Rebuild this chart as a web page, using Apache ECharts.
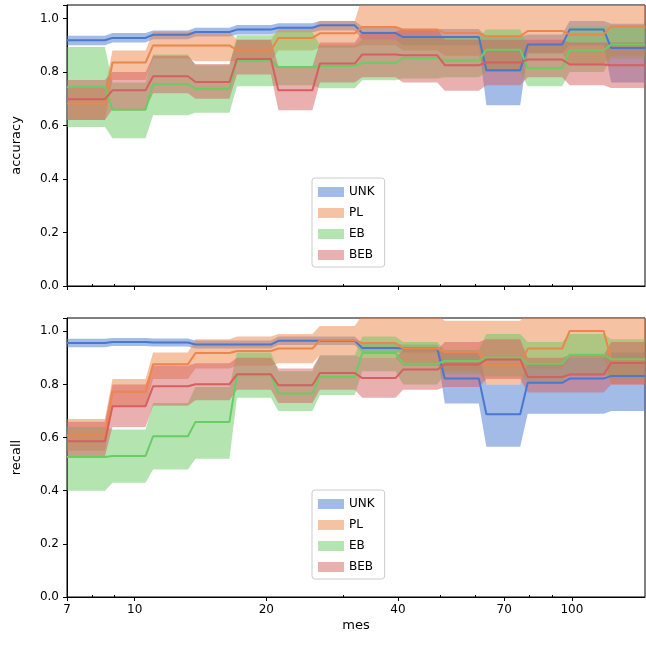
<!DOCTYPE html>
<html>
<head>
<meta charset="utf-8">
<script src="https://cdn.jsdelivr.net/npm/echarts@6/dist/echarts.min.js"></script>
<style>html,body{margin:0;padding:0;background:#fff}#main{width:646px;height:648px}</style>
</head>
<body>
<div id="main"></div>
<script>
// plateau boundaries on the mes axis
var bounds = [7, 8.72, 10.8, 13.5, 16.8, 20.9, 26.0, 32.5, 40.3, 50.2, 62.5, 77.7, 96.9, 120.6, 147];
var xTickVals = [7, 10, 20, 40, 70, 100];
var xMinorVals = [8, 9, 30, 50, 60, 80, 90];
var names = ['UNK', 'PL', 'EB', 'BEB'];
var colors = ['#4878d0', '#ee854a', '#6acc64', '#d65f5f'];
var bandColors = ['rgba(72,120,208,0.5)', 'rgba(238,133,74,0.5)', 'rgba(106,204,100,0.5)', 'rgba(214,95,95,0.5)'];

// accuracy
var accUNK   = [.918,.927,.939,.949,.958,.965,.974,.945,.930,.930,.806,.902,.958,.889];
var accUNKlo = [.900,.910,.922,.932,.940,.948,.955,.920,.900,.900,.675,.870,.900,.760];
var accUNKhi = [.935,.945,.955,.965,.975,.982,.990,.970,.960,.960,.930,.940,.990,.980];
var accPL    = [.682,.835,.899,.899,.881,.927,.944,.968,.958,.945,.933,.953,.940,.970];
var accPLlo  = [.620,.770,.850,.840,.840,.880,.890,.900,.880,.860,.800,.870,.830,.860];
var accPLhi  = [.740,.880,.950,.950,.920,.960,.990,1.08,1.08,1.06,1.08,1.06,1.08,1.06];
var accEB    = [.744,.659,.754,.737,.843,.818,.822,.833,.852,.843,.883,.815,.881,.902];
var accEBlo  = [.594,.552,.638,.647,.746,.750,.739,.769,.775,.780,.800,.746,.800,.850];
var accEBhi  = [.893,.760,.865,.825,.937,.950,.900,.920,.930,.930,.958,.900,.970,.970];
var accBEB   = [.698,.731,.784,.762,.848,.731,.831,.865,.862,.825,.835,.846,.828,.825];
var accBEBlo = [.620,.660,.720,.700,.790,.657,.760,.780,.760,.730,.750,.780,.750,.740];
var accBEBhi = [.770,.800,.860,.830,.920,.820,.910,.950,.960,.920,.920,.920,.910,.910];

// recall
var recUNK   = [.956,.960,.958,.950,.950,.964,.964,.937,.935,.822,.688,.806,.822,.832];
var recUNKlo = [.940,.945,.943,.935,.935,.948,.948,.920,.920,.728,.565,.690,.690,.700];
var recUNKhi = [.972,.975,.973,.965,.965,.980,.980,.955,.950,.920,.800,.880,.900,.920];
var recPL    = [.609,.772,.876,.918,.926,.935,.966,.956,.935,.922,.872,.935,1.001,.894];
var recPLlo  = [.550,.720,.820,.860,.870,.880,.910,.900,.870,.850,.800,.860,.900,.800];
var recPLhi  = [.670,.820,.920,.970,.980,.990,1.02,1.06,1.06,1.04,1.04,1.08,1.08,1.08];
var recEB    = [.527,.531,.605,.659,.835,.766,.828,.918,.878,.888,.901,.878,.912,.895];
var recEBlo  = [.400,.430,.480,.520,.750,.700,.760,.850,.800,.840,.830,.810,.840,.820];
var recEBhi  = [.640,.630,.730,.790,.920,.850,.910,.980,.960,.930,.990,.960,.990,.970];
var recBEB   = [.586,.718,.793,.801,.838,.797,.843,.824,.856,.875,.894,.828,.837,.881];
var recBEBlo = [.530,.640,.720,.740,.780,.730,.780,.750,.780,.790,.820,.770,.770,.800];
var recBEBhi = [.660,.800,.870,.880,.900,.860,.910,.900,.930,.960,.970,.900,.910,.960];

var panels = [
  [[accUNK, accUNKlo, accUNKhi], [accPL, accPLlo, accPLhi], [accEB, accEBlo, accEBhi], [accBEB, accBEBlo, accBEBhi]],
  [[recUNK, recUNKlo, recUNKhi], [recPL, recPLlo, recPLhi], [recEB, recEBlo, recEBhi], [recBEB, recBEBlo, recBEBhi]]
];

// each plateau gets two points, leaving short slopes between plateaus
function stepPoints(vals) {
  var pts = [];
  for (var i = 0; i < vals.length; i++) {
    var x1 = i === 0 ? bounds[0] : bounds[i] * 1.02;
    var x2 = i === vals.length - 1 ? bounds[i + 1] : bounds[i + 1] / 1.02;
    pts.push([x1, vals[i]], [x2, vals[i]]);
  }
  return pts;
}

var series = [];
panels.forEach(function (panel, p) {
  panel.forEach(function (s, k) {
    var lo = stepPoints(s[1]), hi = stepPoints(s[2]);
    series.push({
      name: names[k], type: 'custom', xAxisIndex: p * 2, yAxisIndex: p,
      clip: true, silent: true, z: 1,
      itemStyle: { color: bandColors[k] },
      data: [0],
      renderItem: (function (lo, hi, col) {
        return function (params, api) {
          var pts = lo.map(function (d) { return api.coord(d); });
          hi.slice().reverse().forEach(function (d) { pts.push(api.coord(d)); });
          return { type: 'polygon', shape: { points: pts }, style: { fill: col } };
        };
      })(lo, hi, bandColors[k])
    });
  });
  panel.forEach(function (s, k) {
    series.push({
      name: names[k], type: 'line', xAxisIndex: p * 2, yAxisIndex: p,
      data: stepPoints(s[0]), showSymbol: false, silent: true, z: 3,
      lineStyle: { color: colors[k], width: 2 }, itemStyle: { color: colors[k] }
    });
  });
});

function xAxes(gi, labels) {
  return [{
    type: 'log', logBase: 10, gridIndex: gi, min: 7, max: 147,
    name: labels ? 'mes' : '', nameLocation: 'middle', nameGap: 22,
    nameTextStyle: { fontSize: 13, color: '#000', fontFamily: 'DejaVu Sans' },
    axisLine: { onZero: false, lineStyle: { color: '#000' } },
    axisTick: { customValues: xTickVals, length: 4, lineStyle: { color: '#000' } },
    axisLabel: { show: labels, customValues: xTickVals, color: '#000', fontSize: 12, fontFamily: 'DejaVu Sans', margin: 7 },
    splitLine: { show: false }
  }, {
    type: 'log', logBase: 10, gridIndex: gi, min: 7, max: 147,
    axisLine: { show: false },
    axisTick: { customValues: xMinorVals, length: 2, lineStyle: { color: '#000' } },
    axisLabel: { show: false, customValues: xMinorVals },
    splitLine: { show: false }
  }];
}

function yAxis(gi, name) {
  return {
    type: 'value', gridIndex: gi, min: 0, max: 1.05, interval: 0.2,
    name: name, nameLocation: 'middle', nameGap: 44,
    nameTextStyle: { fontSize: 13, color: '#000', fontFamily: 'DejaVu Sans' },
    axisLine: { show: true, lineStyle: { color: '#000' } },
    axisTick: { show: true, length: 4, lineStyle: { color: '#000' } },
    axisLabel: { color: '#000', fontSize: 12, fontFamily: 'DejaVu Sans',
      formatter: function (v) { return v > 1.01 ? '' : v.toFixed(1); } },
    splitLine: { show: false }
  };
}

function legend(top) {
  return {
    top: top, left: 312, orient: 'vertical', itemWidth: 26, itemHeight: 10, itemGap: 9,
    icon: 'rect', padding: [8, 10, 6, 6], borderColor: '#ccc', borderWidth: 1, borderRadius: 3,
    backgroundColor: 'rgba(255,255,255,0.8)',
    textStyle: { fontSize: 12, color: '#000', fontFamily: 'DejaVu Sans' },
    selectedMode: false,
    data: names.map(function (n, k) { return { name: n, itemStyle: { color: bandColors[k] } }; })
  };
}

var myChart = echarts.init(document.getElementById('main'));
var option = {
  animation: false,
  grid: [
    { left: 67, right: 1, top: 5, height: 281, show: true, borderColor: '#000', borderWidth: 1 },
    { left: 67, right: 1, top: 318, height: 279, show: true, borderColor: '#000', borderWidth: 1 }
  ],
  legend: [legend(178), legend(490)],
  xAxis: xAxes(0, false).concat(xAxes(1, true)),
  yAxis: [yAxis(0, 'accuracy'), yAxis(1, 'recall')],
  series: series
};
myChart.setOption(option);
</script>
</body>
</html>
